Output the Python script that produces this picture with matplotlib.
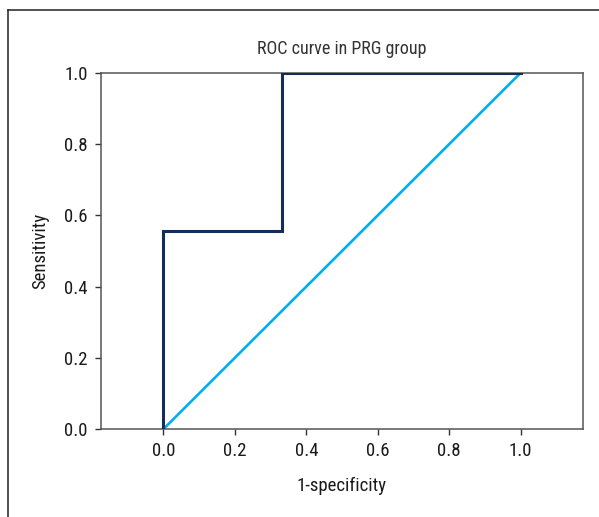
import matplotlib
matplotlib.use('Agg')
import matplotlib.pyplot as plt
from matplotlib.lines import Line2D
from matplotlib import font_manager

# a narrow font is closest to the original; use one if it is installed
names = set(f.name for f in font_manager.fontManager.ttflist)
fam = 'DejaVu Sans'
for n in ['Liberation Sans Narrow', 'DejaVu Sans Condensed', 'Roboto Condensed', 'Open Sans Condensed']:
    if n in names:
        fam = n
        break
plt.rcParams['font.family'] = [fam, 'DejaVu Sans']

# ROC curve points (1-specificity, sensitivity)
fpr = [0.0, 0.0, 0.333, 0.333, 1.0]
tpr = [0.0, 0.556, 0.556, 1.0, 1.0]
ref_x = [0.0, 1.0]
ref_y = [0.0, 1.0]
ticks = [0.0, 0.2, 0.4, 0.6, 0.8, 1.0]

fig = plt.figure(figsize=(5.99, 5.17), dpi=100)
ax = fig.add_axes([0.1686, 0.1702, 0.8047, 0.6886])

ax.plot(ref_x, ref_y, color='#00aeef', lw=1.9, zorder=2)
ax.plot(fpr, tpr, color='#142e5c', lw=2.2, zorder=3, solid_joinstyle='miter')

ax.set_xlim(-0.175, 1.175)
ax.set_ylim(0, 1)
ax.set_xticks(ticks)
ax.set_yticks(ticks)
ax.set_xticklabels(['%.1f' % t for t in ticks])
ax.set_yticklabels(['%.1f' % t for t in ticks])
ax.tick_params(labelsize=13.5, color='#333333', length=4.5, width=1, labelcolor='#1a1a1a', pad=5)
for s in ax.spines.values():
    s.set_color('#555555')
    s.set_linewidth(1.1)

ax.set_title('ROC curve in PRG group', fontsize=13, color='#333333', pad=14)
ax.set_xlabel('1-specificity', fontsize=13.5, color='#1a1a1a', labelpad=12)
ax.set_ylabel('Sensitivity', fontsize=13.5, color='#1a1a1a', labelpad=11)

# outer frame (left and top edges)
fig.add_artist(Line2D([8/599, 8/599], [0, 1 - 10/517], transform=fig.transFigure, color='#222222', lw=1.1))
fig.add_artist(Line2D([8/599, 1], [1 - 10/517, 1 - 10/517], transform=fig.transFigure, color='#222222', lw=1.1))

fig.savefig('out.png', dpi=100)
